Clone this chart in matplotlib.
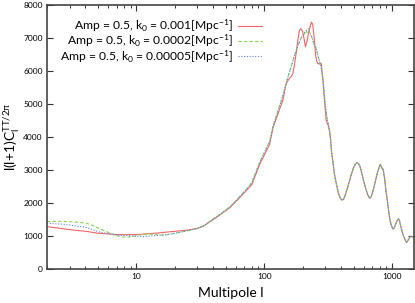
import numpy as np
import matplotlib
matplotlib.use("Agg")
import matplotlib.pyplot as plt
from matplotlib.ticker import FixedLocator, NullFormatter, LogLocator

plt.rcParams['font.family'] = ['Lato', 'DejaVu Sans']
plt.rcParams['mathtext.fontset'] = 'custom'
plt.rcParams['mathtext.rm'] = 'Lato'
plt.rcParams['mathtext.it'] = 'Lato:italic'

# ---- data ----
l_low_red = [2, 2.5, 3, 3.5, 4, 5, 6, 7, 8, 10, 12, 15, 19, 23, 26, 30, 34, 37, 42, 48, 54, 62, 72, 80, 92, 110, 117, 128,
             140, 148, 156, 162, 167, 172, 178, 183, 188, 192, 196, 200, 205, 210, 216, 223, 229, 234, 239, 243, 248,
             252, 257, 262, 270, 279, 287, 296, 305, 310, 316, 324, 330]
cl_low_red = [1290, 1240, 1200, 1170, 1150, 1090, 1070, 1050, 1045, 1050, 1070, 1100, 1140, 1170, 1190, 1240, 1320, 1420,
              1560, 1720, 1870, 2100, 2370, 2560, 3170, 3770, 4270, 4700,
              5120, 5600, 5750, 5820, 5900, 6170, 6550, 6920, 7200, 7270, 7240, 7170, 6950, 6720, 6900, 7170, 7350,
              7470, 7400, 7170, 6800, 6470, 6300, 6220, 6200, 6220, 5770, 5070, 4500, 4420, 4350, 4200, 3900]

l_low_green = [2, 2.5, 3, 3.5, 4, 4.6, 5.2, 6, 6.6, 7.3, 7.9, 8.6, 9.4, 10.3, 11.3, 12.5, 13.8, 15.2, 17, 19.3, 22, 26,
               30, 34, 37, 42, 48, 54, 62, 72, 80, 92, 110, 117, 128,
               140, 150, 160, 172, 185, 195, 205, 212, 216, 220, 225, 230, 236, 245, 255, 265, 279, 290, 300, 310, 320, 330]
cl_low_green = [1440, 1450, 1440, 1420, 1400, 1320, 1220, 1120, 1040, 1000, 975, 975, 990, 1030, 1055, 1065, 1055, 1035,
                1035, 1075, 1120, 1180, 1230, 1320, 1430, 1580, 1740, 1890, 2130, 2400, 2620, 3230, 3850, 4320, 4780,
                5250, 5700, 6050, 6450, 6800, 7000, 7100, 7230, 7150, 7220, 7180, 7100, 7000, 6800, 6670, 6400, 6100,
                5600, 4950, 4550, 4300, 3950]

l_low_blue = [2, 2.5, 3, 3.5, 4, 4.6, 5.2, 6, 7, 8, 9.4, 10.3, 11.3, 12.5, 13.8, 15.2, 17, 19.3, 22, 26,
              30, 34, 37, 42, 48, 54, 62, 72, 80, 92, 110, 117, 128,
              140, 150, 158, 172, 185, 195, 205, 212, 220, 225, 230, 236, 245, 255, 265, 279, 290, 300, 310, 320, 330]
cl_low_blue = [1390, 1370, 1340, 1300, 1270, 1190, 1120, 1080, 1040, 1020, 1005, 995, 990, 1000, 1015, 1030, 1045, 1080,
               1120, 1180, 1230, 1320, 1430, 1580, 1740, 1890, 2130, 2400, 2620, 3230, 3850, 4320, 4780,
               5250, 5700, 5970, 6450, 6800, 7000, 7120, 7200, 7270, 7200, 7100, 7000, 6800, 6670, 6400, 6100,
               5600, 4950, 4550, 4300, 3950]

l_tail = [335, 345, 354, 367, 380, 393, 406, 418, 430, 447, 464, 482, 500, 516, 532, 545, 555, 568, 582, 600, 620, 642,
          665, 682, 700, 725, 750, 778, 806, 818, 830, 842, 855, 872, 890, 907, 924, 942, 960, 985, 1012, 1035, 1060,
          1090, 1119, 1140, 1160, 1185, 1211, 1250, 1285, 1300, 1325, 1350, 1380, 1406, 1440, 1470, 1500]
cl_tail = [3600, 3200, 2870, 2560, 2300, 2150, 2090, 2120, 2250, 2450, 2670, 2900, 3080, 3180, 3220, 3190, 3150, 3030,
           2870, 2650, 2450, 2270, 2150, 2170, 2300, 2520, 2770, 3000, 3170, 3130, 3050, 3050, 2970, 2750, 2450, 2200,
           1970, 1720, 1500, 1330, 1220, 1240, 1350, 1460, 1520, 1480, 1350, 1200, 1070, 930, 830, 820, 860, 920, 980,
           1000, 980, 955, 950]

labels = ['Amp = 0.5, k$_0$ = 0.001[Mpc$^{-1}$]',
          'Amp = 0.5, k$_0$ = 0.0002[Mpc$^{-1}$]',
          'Amp = 0.5, k$_0$ = 0.00005[Mpc$^{-1}$]']
colors = ['#f06464', '#84d650', '#6282ea']
styles = ['-', (0, (3, 2)), (0, (1, 1.5))]

y_ticks = [0, 1000, 2000, 3000, 4000, 5000, 6000, 7000, 8000]
x_ticks = [10, 100, 1000]

# ---- figure ----
fig = plt.figure(figsize=(4.15, 3.03), dpi=100)
ax = fig.add_axes([47 / 415, (303 - 269.3) / 303, (414.3 - 47) / 415, (269.3 - 4.5) / 303])

series = [
    (l_low_red + l_tail, cl_low_red + cl_tail),
    (l_low_green + l_tail, cl_low_green + cl_tail),
    (l_low_blue + l_tail, cl_low_blue + cl_tail),
]
for (lx, cy), lab, c, ls in zip(series, labels, colors, styles):
    ax.plot(lx, cy, color=c, lw=0.8, linestyle=ls, label=lab)

ax.set_xscale('log')
ax.set_xlim(2, 1490)
ax.set_ylim(0, 8000)
ax.xaxis.set_major_locator(FixedLocator(x_ticks))
ax.set_xticklabels([str(t) for t in x_ticks])
ax.xaxis.set_minor_locator(LogLocator(base=10, subs=np.arange(2, 10)))
ax.xaxis.set_minor_formatter(NullFormatter())
ax.set_yticks(y_ticks)
ax.set_yticklabels([str(t) for t in y_ticks])

ax.tick_params(axis='both', which='both', direction='in', top=True, right=True,
               labelsize=6, colors='#333333', labelcolor='black')
ax.tick_params(which='major', length=4, width=0.8, pad=3)
ax.tick_params(which='minor', length=2.2, width=0.7)
for s in ax.spines.values():
    s.set_color('#444444')
    s.set_linewidth(1.2)

ax.set_xlabel('Multipole l', fontsize=10, labelpad=5)
ax.set_ylabel(r'l(l+1)C$_\mathrm{l}^\mathrm{TT/2\pi}$', fontsize=10)
ax.yaxis.set_label_coords(-0.068, 0.5)

leg = ax.legend(loc='upper right', bbox_to_anchor=(0.585, 0.95), markerfirst=False, frameon=False,
                fontsize=8.7, handlelength=2.0, handletextpad=0.35, labelspacing=-0.12, borderpad=0.0,
                borderaxespad=0.0)

fig.savefig('out.png', dpi=100)
